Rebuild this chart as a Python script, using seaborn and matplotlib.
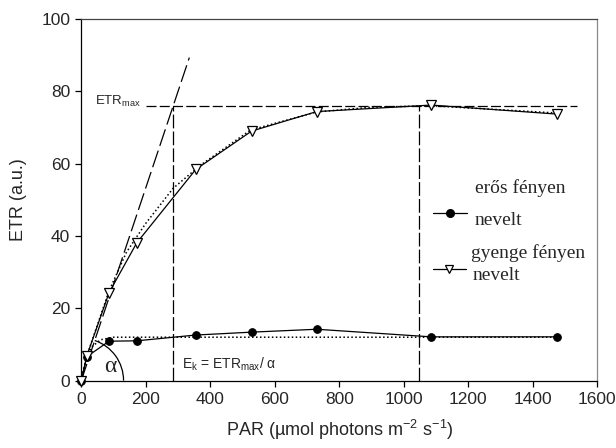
import numpy as np
import pandas as pd
import matplotlib
matplotlib.use("Agg")
import matplotlib.pyplot as plt
from matplotlib.patches import Arc
import seaborn as sns

# Measured electron transport rate vs. light intensity
par = [0, 17, 86, 172, 355, 528, 730, 1085, 1475]
etr_strong = [0, 6.6, 10.9, 11.0, 12.6, 13.4, 14.2, 12.1, 12.1]   # erős fényen nevelt
etr_weak = [0, 6.8, 24.3, 38.1, 58.4, 69.0, 74.4, 76.2, 73.7]     # gyenge fényen nevelt

# Fitted light-response curves (dotted)
fit_weak_par = [0, 17, 86, 140, 200, 285, 370, 525, 730, 900, 1085, 1475]
fit_weak_etr = [0, 6.8, 24.8, 35.5, 43.5, 53.2, 59.6, 69.3, 74.3, 75.6, 76.0, 74.0]
fit_strong_par = [0, 17, 35, 60, 100, 1475]
fit_strong_etr = [0, 7.0, 9.5, 11.3, 12.0, 12.0]

# Photosynthetic parameters of the weak-light curve
etr_max = 76.0
e_k = 285.0
alpha = etr_max / e_k
e_max_par = 1048.0
slope_line_par = [0, 335]
etr_max_line_par = [200, 1536]

x_ticks = [0, 200, 400, 600, 800, 1000, 1200, 1400, 1600]
y_ticks = [0, 20, 40, 60, 80, 100]

sns.set_style("ticks")
plt.rcParams["font.family"] = ["Liberation Sans", "DejaVu Sans"]
plt.rcParams["mathtext.default"] = "regular"

fig = plt.figure(figsize=(6.16, 4.48), dpi=100)
ax = fig.add_axes([81.3 / 616, 1 - 380.6 / 448, 516 / 616, 361.6 / 448])

df = pd.DataFrame({"par": par, "strong": etr_strong, "weak": etr_weak})

# fitted curves
sns.lineplot(x=fit_weak_par, y=fit_weak_etr, ax=ax, color="black", lw=1.1,
             linestyle=(0, (1, 1.6)), sort=False, estimator=None)
sns.lineplot(x=fit_strong_par, y=fit_strong_etr, ax=ax, color="black", lw=1.1,
             linestyle=(0, (1, 1.6)), sort=False, estimator=None)

# initial slope, ETRmax and Ek guides
dash_kw = dict(color="black", lw=0.9)
ax.plot(slope_line_par, [alpha * p for p in slope_line_par], dashes=(14, 4), **dash_kw)
ax.plot(etr_max_line_par, [etr_max, etr_max], dashes=(8, 2.6), **dash_kw)
ax.plot([e_k, e_k], [0, etr_max], dashes=(11, 2.5), **dash_kw)
ax.plot([e_max_par, e_max_par], [0, etr_max], dashes=(11, 2.5), **dash_kw)

# measured data
sns.lineplot(data=df, x="par", y="strong", ax=ax, color="black", lw=0.9,
             marker="o", markersize=5.5, markerfacecolor="black",
             markeredgecolor="black", sort=False, estimator=None, clip_on=False)
sns.lineplot(data=df, x="par", y="weak", ax=ax, color="black", lw=0.9,
             marker="v", markersize=7, markerfacecolor="white",
             markeredgecolor="black", markeredgewidth=0.9,
             sort=False, estimator=None, clip_on=False, zorder=4)

# angle arc for alpha
ax.add_patch(Arc((0, 0), width=262, height=23.4, theta1=0,
                 theta2=np.degrees(np.arctan(alpha)), color="black", lw=0.9))
ax.text(89, 4.0, "α", family=["Liberation Serif", "DejaVu Serif"], fontsize=17,
        ha="center", va="center")

ax.text(43, 76.3, "ETR$_{max}$", fontsize=9.5, ha="left", va="baseline")
ax.text(311, 3.4, "E$_k$ = ETR$_{max}$/ α", fontsize=10, ha="left", va="baseline")

# legend drawn by hand
serif = ["Liberation Serif", "DejaVu Serif"]
tA = ax.transAxes
ax.text(0.763, 0.519, "erős fényen", transform=tA, family=serif, fontsize=14, va="baseline")
ax.text(0.763, 0.429, "nevelt", transform=tA, family=serif, fontsize=14, va="baseline")
ax.plot([0.681, 0.747], [0.463, 0.463], transform=tA, color="black", lw=0.9)
ax.plot([0.714], [0.463], transform=tA, marker="o", color="black", markersize=5.5)
ax.text(0.756, 0.339, "gyenge fényen", transform=tA, family=serif, fontsize=14, va="baseline")
ax.text(0.759, 0.278, "nevelt", transform=tA, family=serif, fontsize=14, va="baseline")
ax.plot([0.681, 0.745], [0.308, 0.308], transform=tA, color="black", lw=0.9)
ax.plot([0.712], [0.308], transform=tA, marker="v", markersize=6,
        markerfacecolor="white", markeredgecolor="black", markeredgewidth=0.9)

ax.set_xlim(0, 1600)
ax.set_ylim(0, 100)
ax.set_xticks(x_ticks)
ax.set_yticks(y_ticks)
ax.tick_params(labelsize=12.5, length=4, width=0.9, color="black", pad=4)
ax.set_xlabel("PAR (µmol photons m$^{-2}$ s$^{-1}$)", fontsize=13, labelpad=8)
ax.set_ylabel("ETR (a.u.)", fontsize=13, labelpad=10)

for side in ("left", "bottom"):
    ax.spines[side].set_color("black")
    ax.spines[side].set_linewidth(0.9)
ax.spines["top"].set_color("#444444")
ax.spines["right"].set_color("#8a8a8a")
for side in ("top", "right"):
    ax.spines[side].set_linewidth(0.9)

fig.savefig("out.png", dpi=100)
